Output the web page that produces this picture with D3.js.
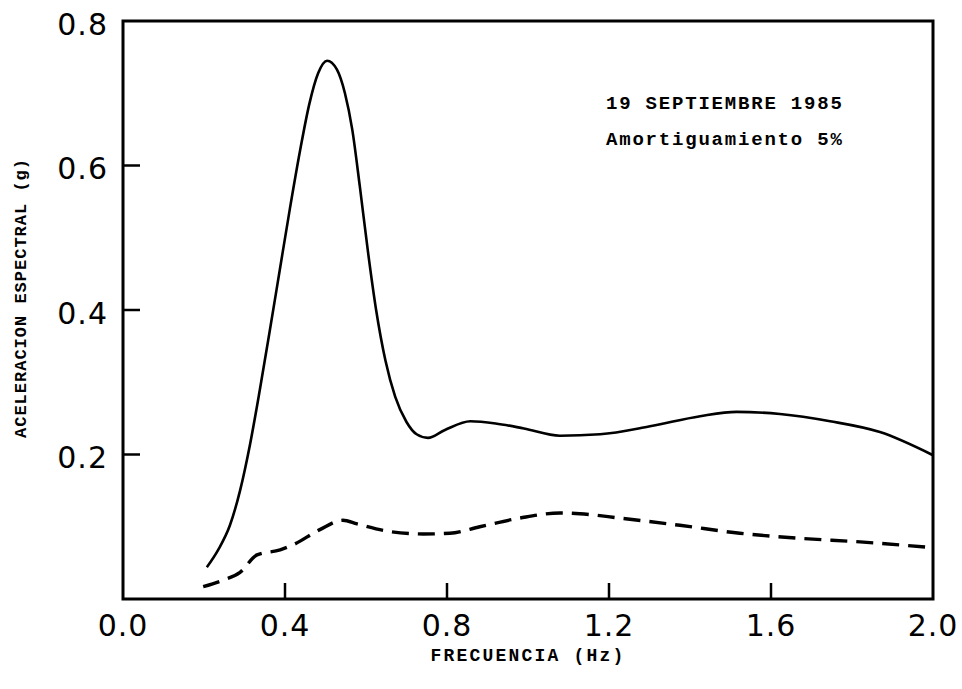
<!DOCTYPE html>
<html>
<head>
<meta charset="utf-8">
<script src="https://cdn.jsdelivr.net/npm/d3@7"></script>
<style>
  body { margin: 0; background: #fff; }
  .tick-label { font-family: "DejaVu Sans", sans-serif; font-size: 30px; font-weight: normal; fill: #000; }
  .mono { font-family: "Liberation Mono", "Courier New", monospace; font-weight: bold; fill: #000; }
</style>
</head>
<body>
<div id="chart"></div>
<script>
// espectro de respuesta, amortiguamiento 5%
var solidFreq = [0.207, 0.235, 0.264, 0.289, 0.314, 0.338, 0.362, 0.387, 0.412, 0.437, 0.460, 0.482, 0.504, 0.528, 0.548, 0.566, 0.585, 0.605, 0.625, 0.648, 0.672, 0.700, 0.725, 0.753, 0.795, 0.858, 0.920, 0.990, 1.079, 1.178, 1.301, 1.425, 1.515, 1.622, 1.746, 1.869, 2.0];
var solidAcc  = [0.044, 0.068, 0.102, 0.150, 0.215, 0.290, 0.370, 0.455, 0.540, 0.620, 0.685, 0.728, 0.745, 0.733, 0.700, 0.650, 0.570, 0.480, 0.400, 0.330, 0.280, 0.245, 0.228, 0.223, 0.234, 0.246, 0.243, 0.236, 0.226, 0.228, 0.239, 0.253, 0.259, 0.256, 0.246, 0.231, 0.199];

var dashFreq = [0.198, 0.247, 0.289, 0.331, 0.388, 0.420, 0.486, 0.543, 0.578, 0.652, 0.741, 0.807, 0.881, 0.980, 1.079, 1.128, 1.227, 1.375, 1.523, 1.672, 1.820, 2.0];
var dashAcc  = [0.017, 0.026, 0.037, 0.061, 0.068, 0.075, 0.096, 0.109, 0.104, 0.094, 0.090, 0.091, 0.100, 0.112, 0.119, 0.118, 0.112, 0.102, 0.091, 0.084, 0.079, 0.071];

var xTickValues = [0.0, 0.4, 0.8, 1.2, 1.6, 2.0];
var xTickMarks = [0.4, 0.8, 1.2, 1.6];
var yTickValues = [0.2, 0.4, 0.6, 0.8];
var yTickMarks = [0.2, 0.4, 0.6];

var titleLines = ["19 SEPTIEMBRE 1985", "Amortiguamiento 5%"];

var width = 962, height = 689;
var margin = {left: 123, right: 933, top: 21, bottom: 599};

var svg = d3.select("#chart").append("svg")
    .attr("width", width)
    .attr("height", height);

var x = d3.scaleLinear().domain([0, 2]).range([margin.left, margin.right]);
var y = d3.scaleLinear().domain([0, 0.8]).range([margin.bottom, margin.top]);

// marco
svg.append("rect")
    .attr("x", margin.left).attr("y", margin.top)
    .attr("width", margin.right - margin.left).attr("height", margin.bottom - margin.top)
    .attr("fill", "none")
    .attr("stroke", "#000")
    .attr("stroke-width", 3);

// marcas hacia adentro
svg.selectAll(".xmark").data(xTickMarks).enter().append("line")
    .attr("x1", d => x(d)).attr("x2", d => x(d))
    .attr("y1", margin.bottom).attr("y2", margin.bottom - 16)
    .attr("stroke", "#000").attr("stroke-width", 2.5);

svg.selectAll(".ymark").data(yTickMarks).enter().append("line")
    .attr("x1", margin.left).attr("x2", margin.left + 17)
    .attr("y1", d => y(d)).attr("y2", d => y(d))
    .attr("stroke", "#000").attr("stroke-width", 2.5);

// etiquetas de los ejes
svg.selectAll(".xlab").data(xTickValues).enter().append("text")
    .attr("class", "tick-label")
    .attr("x", d => x(d))
    .attr("y", 625)
    .attr("dy", "0.36em")
    .attr("text-anchor", "middle")
    .attr("letter-spacing", 1)
    .text(d => d.toFixed(1));

svg.selectAll(".ylab").data(yTickValues).enter().append("text")
    .attr("class", "tick-label")
    .attr("x", 108)
    .attr("y", d => y(d) + 3)
    .attr("dy", "0.36em")
    .attr("text-anchor", "end")
    .attr("letter-spacing", 1)
    .text(d => d.toFixed(1));

svg.append("text")
    .attr("class", "mono")
    .attr("x", 528).attr("y", 661)
    .attr("text-anchor", "middle")
    .attr("font-size", 18)
    .attr("letter-spacing", 2.2)
    .text("FRECUENCIA (Hz)");

svg.append("text")
    .attr("class", "mono")
    .attr("transform", "translate(26,298) rotate(-90)")
    .attr("text-anchor", "middle")
    .attr("font-size", 17)
    .attr("letter-spacing", 1)
    .text("ACELERACION ESPECTRAL (g)");

svg.selectAll(".note").data(titleLines).enter().append("text")
    .attr("class", "mono")
    .attr("x", 606)
    .attr("y", (d, i) => 109 + i * 36)
    .attr("font-size", 19)
    .attr("letter-spacing", 1.8)
    .text(d => d);

// curvas
var line = d3.line()
    .x(d => x(d[0]))
    .y(d => y(d[1]))
    .curve(d3.curveMonotoneX);

svg.append("path")
    .datum(d3.zip(solidFreq, solidAcc))
    .attr("d", line)
    .attr("fill", "none")
    .attr("stroke", "#000")
    .attr("stroke-width", 2.6);

svg.append("path")
    .datum(d3.zip(dashFreq, dashAcc))
    .attr("d", line)
    .attr("fill", "none")
    .attr("stroke", "#000")
    .attr("stroke-width", 3.4)
    .attr("stroke-dasharray", "17,9");
</script>
</body>
</html>
